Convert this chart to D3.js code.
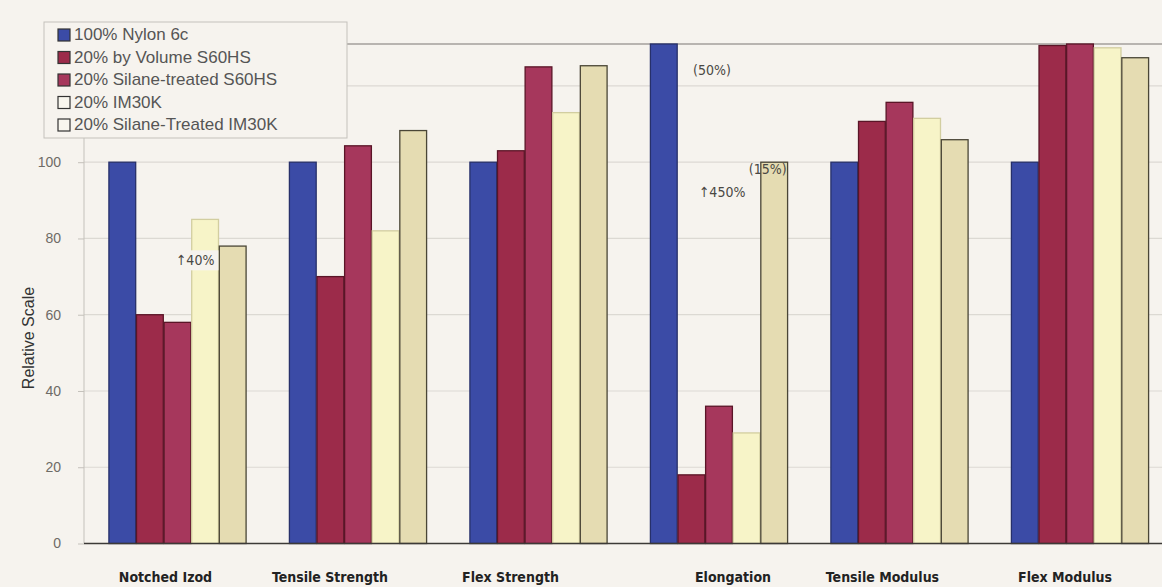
<!DOCTYPE html>
<html>
<head>
<meta charset="utf-8">
<script src="https://cdn.jsdelivr.net/npm/d3@7"></script>
<style>
  html, body { margin: 0; padding: 0; background: #f6f3ee; }
  svg { display: block; }
</style>
</head>
<body>
<svg id="chart" width="1162" height="587"></svg>
<script>
// Properties compared, in display order
const properties = ["Notched Izod", "Tensile Strength", "Flex Strength", "Elongation", "Tensile Modulus", "Flex Modulus"];

// Materials (one bar per material in each property group)
const materials = ["100% Nylon 6c", "20% by Volume S60HS", "20% Silane-treated S60HS", "20% IM30K", "20% Silane-Treated IM30K"];

// Relative values, one array per material, aligned with `properties`
const nylon        = [100, 100, 100, 150, 100, 100];
const s60hs        = [60, 70, 103, 18, 110.7, 130.6];
const silaneS60hs  = [58, 104.3, 125, 36, 115.7, 132.2];
const im30k        = [85, 82, 113, 29, 111.5, 130];
const silaneIm30k  = [78, 108.3, 125.3, 100, 105.9, 127.4];

const yTicks = [0, 20, 40, 60, 80, 100];
const gridValues = [20, 40, 60, 80, 100, 120];

// Callout texts
const notes = [
  { property: "Notched Izod", material: "20% IM30K", text: "\u219140%" },
  { property: "Elongation", material: "20% by Volume S60HS", text: "(50%)" },
  { property: "Elongation", material: "20% Silane-Treated IM30K", text: "(15%)" },
  { property: "Elongation", material: "20% Silane-Treated IM30K", text: "\u2191450%" }
];

const seriesValues = [nylon, s60hs, silaneS60hs, im30k, silaneIm30k];
const fills   = ["#3b4ba6", "#9c2b4a", "#a6375c", "#f7f4c8", "#e5dcb2"];
const strokes = ["#27306a", "#5a1527", "#5a1527", "#d2ceа0", "#4a4636"];
strokes[3] = "#d2cea0";

const svg = d3.select("#chart");
const W = 1162;

const x0 = d3.scaleBand().domain(properties).range([87.25, 1170.25]).paddingInner(0.24).paddingOuter(0.12);
const x1 = d3.scaleBand().domain(materials).range([0, x0.bandwidth()]).paddingInner(0.03);
const y = d3.scaleLinear().domain([0, 131]).range([543.5, 44]).clamp(true);

const plotLeft = 84;

// Grid lines
svg.append("g").selectAll("line").data(gridValues).join("line")
  .attr("x1", plotLeft).attr("x2", W)
  .attr("y1", d => y(d)).attr("y2", d => y(d))
  .attr("stroke", "#dcd9d3").attr("stroke-width", 1.2);

// Top frame line
svg.append("line").attr("x1", plotLeft).attr("x2", W)
  .attr("y1", y(131)).attr("y2", y(131))
  .attr("stroke", "#7a7772").attr("stroke-width", 1.2);

// Bars
const groups = svg.append("g").selectAll("g").data(properties).join("g")
  .attr("transform", d => `translate(${x0(d)},0)`);

groups.selectAll("rect")
  .data((p, i) => materials.map((m, k) => ({ m, k, v: seriesValues[k][i] })))
  .join("rect")
  .attr("x", d => x1(d.m))
  .attr("width", x1.bandwidth())
  .attr("y", d => y(d.v))
  .attr("height", d => y(0) - y(d.v))
  .attr("fill", d => fills[d.k])
  .attr("stroke", d => strokes[d.k])
  .attr("stroke-width", 1.3);

// Y axis
const yAxis = d3.axisLeft(y).tickValues(yTicks).tickSize(6).tickPadding(17);
const gy = svg.append("g").attr("transform", `translate(${plotLeft},0)`).call(yAxis);
gy.select(".domain").attr("stroke", "#c4c1bb").attr("d", `M0,${y(0)}V${y(131)}`);
gy.selectAll(".tick line").attr("stroke", "#c4c1bb");
gy.selectAll(".tick text")
  .attr("fill", "#6e6b66")
  .style("font-family", "'Liberation Sans', Arial, sans-serif")
  .style("font-size", "14px");

// Baseline
svg.append("line").attr("x1", plotLeft).attr("x2", W)
  .attr("y1", y(0)).attr("y2", y(0))
  .attr("stroke", "#3c3a37").attr("stroke-width", 1.5);

// X labels (nudged left/right of their group centres as typeset)
const labelShift = [-12, -28, -28, 14, -17, -15];
svg.append("g").selectAll("text").data(properties).join("text")
  .attr("x", (d, i) => x0(d) + x0.bandwidth() / 2 + labelShift[i])
  .attr("y", 582)
  .attr("text-anchor", "middle")
  .style("font-family", "'DejaVu Sans Condensed', 'Liberation Sans Narrow', sans-serif")
  .style("font-weight", "bold")
  .style("font-size", "14px")
  .attr("fill", "#222")
  .text(d => d);

// Y title
svg.append("text")
  .attr("transform", "translate(34,338) rotate(-90)")
  .attr("text-anchor", "middle")
  .style("font-family", "'Liberation Sans', Arial, sans-serif")
  .style("font-size", "16px")
  .attr("fill", "#333")
  .text("Relative Scale");

// Callouts
const noteFont = "'Liberation Sans Narrow', 'DejaVu Sans Condensed', sans-serif";
function noteAt(note, dx, yv, anchor, boxed) {
  const xb = x0(note.property) + x1(note.material) + dx;
  const g = svg.append("g");
  const t = g.append("text")
    .attr("x", xb).attr("y", y(yv))
    .attr("text-anchor", anchor)
    .attr("dominant-baseline", "middle")
    .style("font-family", noteFont)
    .style("font-size", "14px")
    .attr("fill", "#4a4844")
    .text(note.text);
  if (boxed) {
    const bb = t.node().getBBox();
    g.insert("rect", "text")
      .attr("x", bb.x - 4).attr("y", bb.y - 2)
      .attr("width", bb.width + 8).attr("height", bb.height + 4)
      .attr("fill", "#f6f3ee");
  }
}
noteAt(notes[0], x1.bandwidth() / 2 - 10, 74, "middle", true);
noteAt(notes[1], 15, 124, "start", false);
noteAt(notes[2], -12, 98, "start", false);
noteAt(notes[3], -62, 92, "start", false);

// Legend
const lg = svg.append("g");
lg.append("rect").attr("x", 44).attr("y", 22).attr("width", 303).attr("height", 116)
  .attr("fill", "#f6f3ee").attr("stroke", "#c4c1bb").attr("stroke-width", 1);
const rows = lg.selectAll("g.row").data(materials).join("g").attr("class", "row")
  .attr("transform", (d, i) => `translate(58,${35 + i * 22.5})`);
rows.append("rect").attr("x", 0).attr("y", -6).attr("width", 12).attr("height", 12)
  .attr("fill", (d, i) => i === 3 || i === 4 ? "#f8f6ee" : fills[i])
  .attr("stroke", "#333").attr("stroke-width", 1.2);
rows.append("text").attr("x", 16).attr("y", 1)
  .attr("dominant-baseline", "middle")
  .style("font-family", "'Liberation Sans', Arial, sans-serif")
  .style("font-size", "17px")
  .attr("fill", "#555")
  .text(d => d);
</script>
</body>
</html>
